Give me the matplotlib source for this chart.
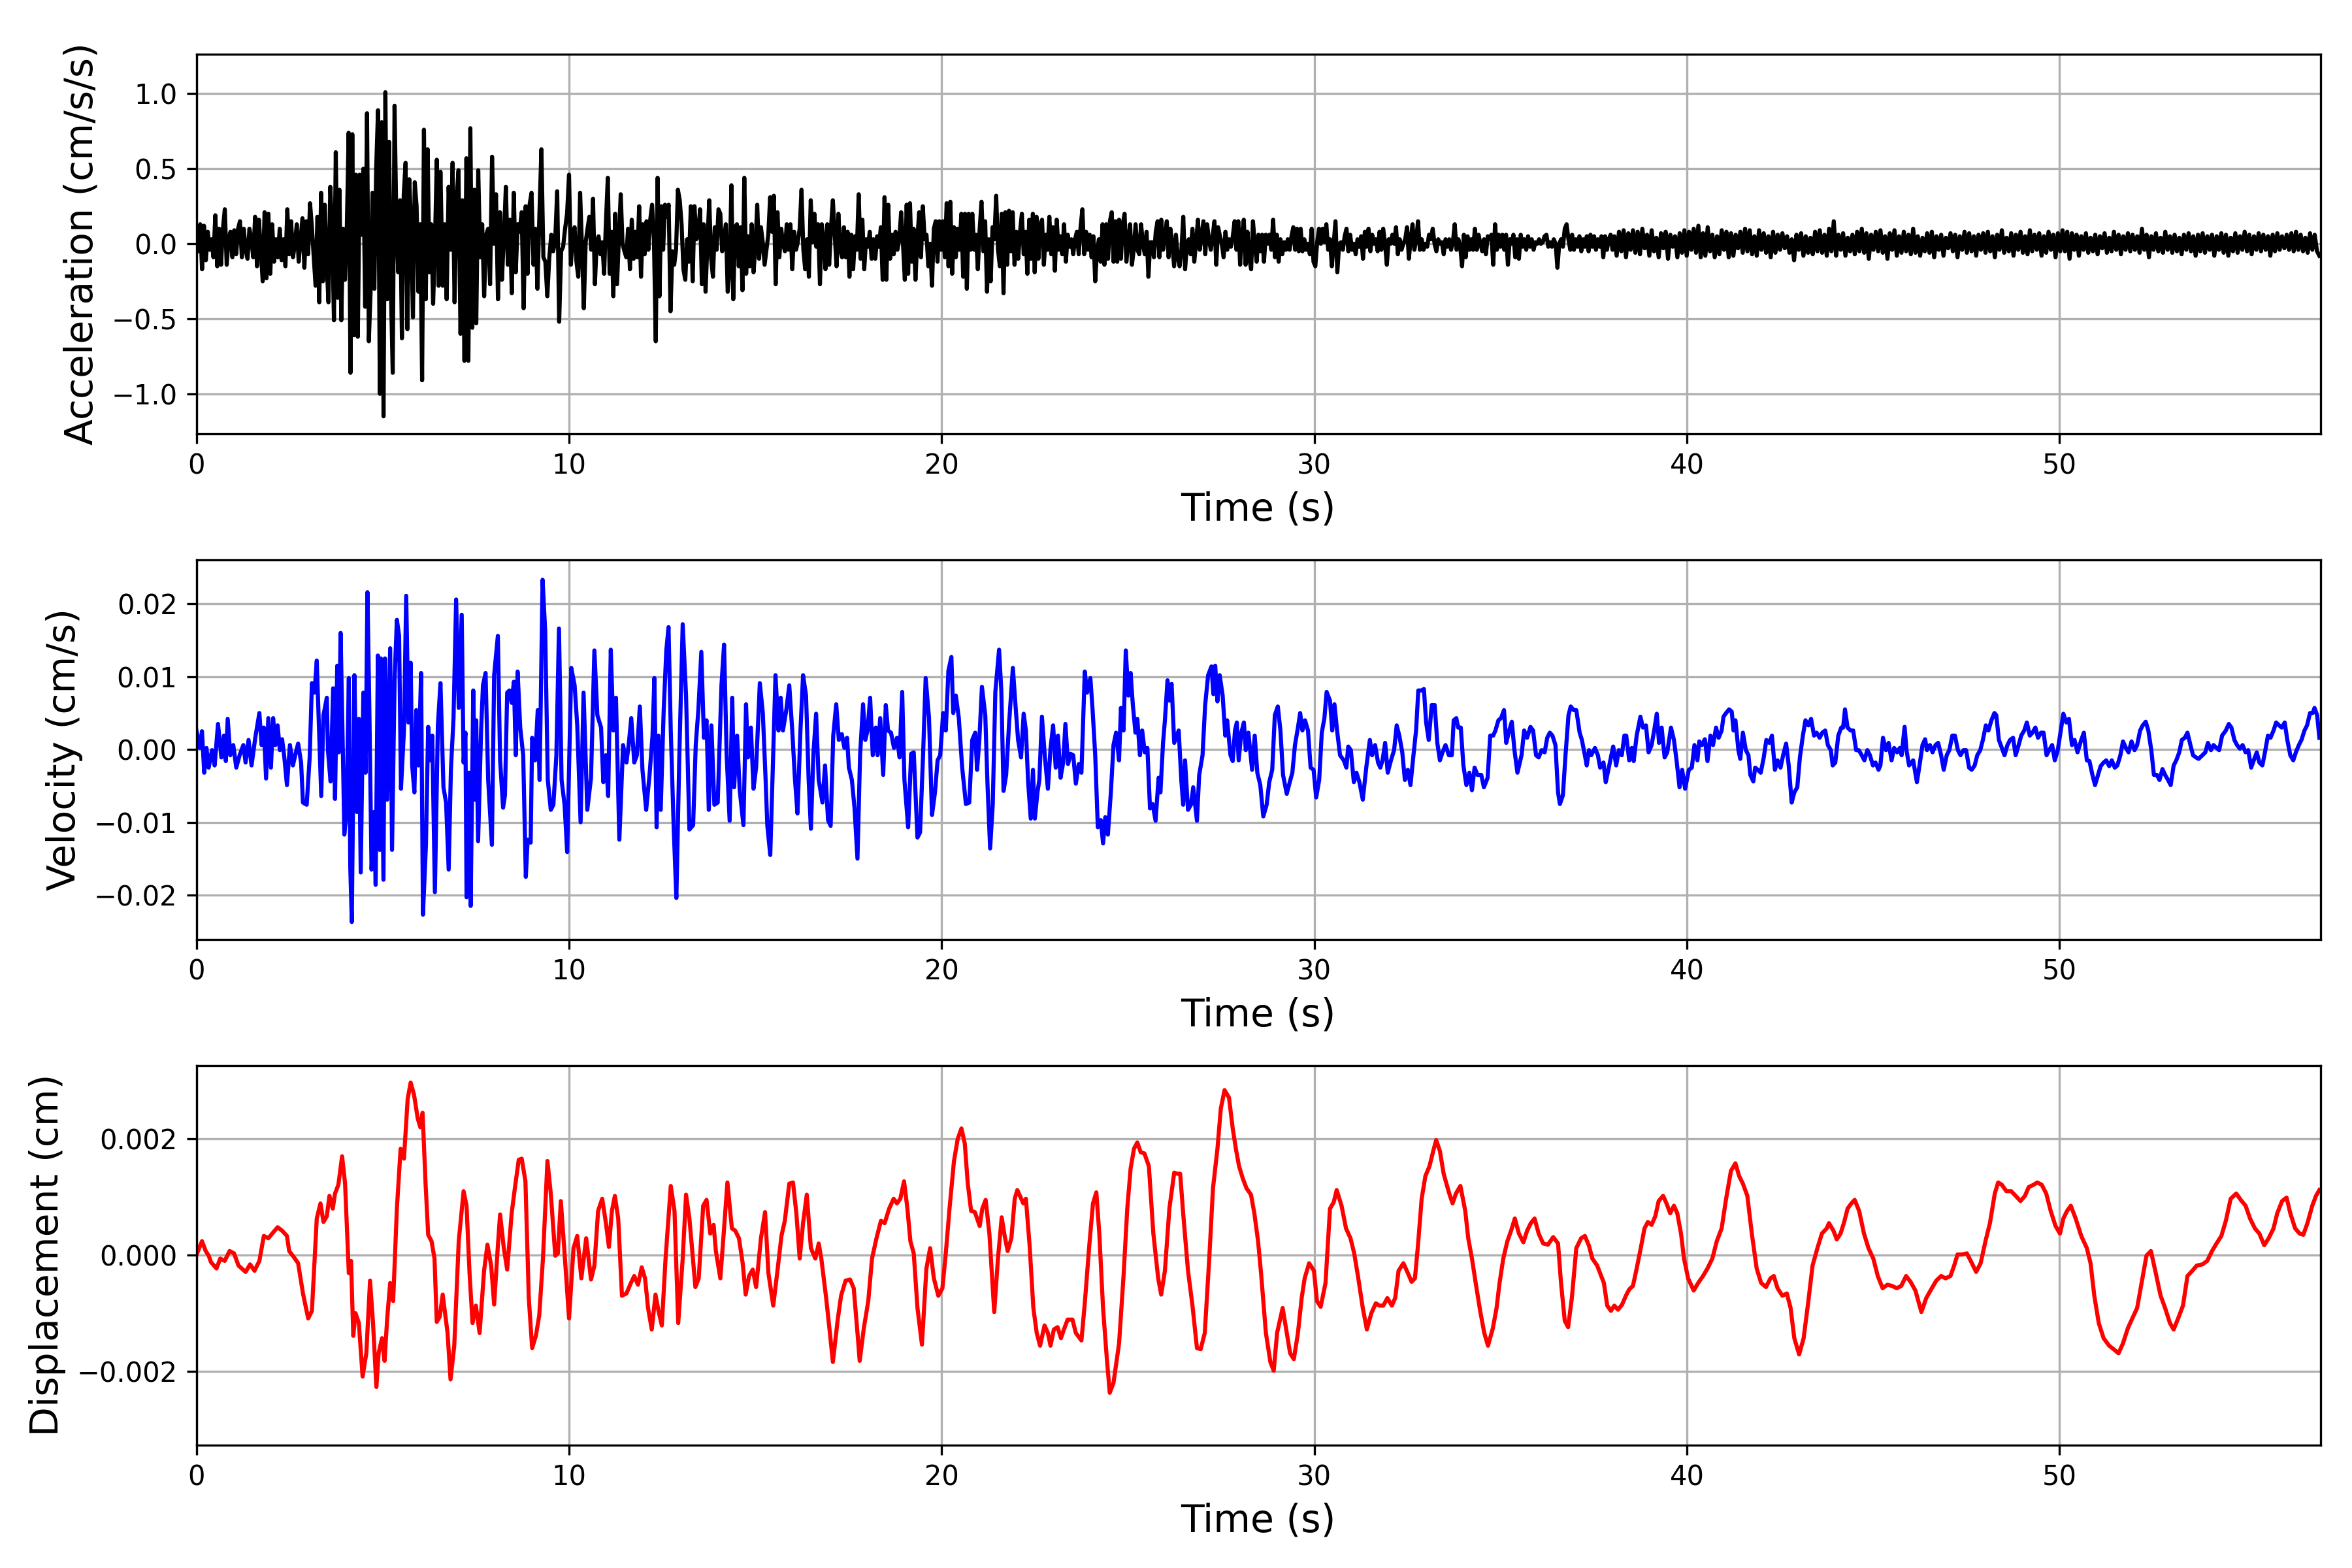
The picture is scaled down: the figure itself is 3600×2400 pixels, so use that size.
import numpy as np
import matplotlib.pyplot as plt

# ---- acceleration in short runs (values in 0.01 cm/s/s)
# each run has a start and end time; samples are evenly spaced inside a run
acc_run1_span = (0.0, 3.05)
acc_run1 = [6, -5, 13, -17, 12, -11, 8, -4, 3, -9, 19, -15, 10, -14, 10, 23, -14, 3, 8, -9,
            9, -7, 10, 15, -9, 10, -4, -10, 10, 3, -9, 18, -15, 16, -4, -25, 21, -23, 20, -20,
            13, -12, 3, -9, 10, -11, 3, -15, 23, -7, 15, -9, 0, 13, -12, 3, 17, -16, 15, -7, 27]
acc_run2_span = (3.10, 6.55)
acc_run2 = [11, -9, -28, 18, -39, 34, -25, 26, -12, -39, 38, 10, -51, 61, -36, 36, -51, 10, -24, 10,
            74, -86, 73, -61, 46, -62, 46, 6, 50, -42, 87, -65, -30, 34, -30, 51, 89, -100, 81, -115,
            101, -37, 68, -30, -86, 92, 13, -19, 29, -63, 33, 54, -57, 43, 13, -49, 41, 25, -32, 13,
            -91, 76, -37, 63, -19, 13, -40, 1, 56, -28, 48]
acc_run3_span = (6.61, 10.0)
acc_run3 = [-28, 13, -37, 38, -4, 54, -39, 29, 49, -60, 29, -78, 57, -78, 77, -56, 36, -53, 49, -9,
            13, -35, 6, 10, -27, 58, 0, 33, -37, 21, -24, 5, 38, -14, 16, -33, 34, -19, 13, 8,
            21, -43, 25, -20, 26, 34, -14, 10, -30, 20, 63, -9, -12, -35, -9, 6, -5, 3, 35, -52,
            -5, -2, 10, 20, 46]
acc_run4_span = (10.05, 19.06)
acc_run4 = [-14, 6, 11, -12, -22, 34, -2, -43, 1, 10, 18, -4, 30, -27, 1, 5, -7, 1, -20, 15,
            44, -20, 8, -35, 20, -27, 3, 33, 0, -5, -9, 10, -17, 16, -10, 8, -9, 25, -22, 13,
            -7, 15, -4, 16, 26, 3, -65, 44, -35, 25, -4, 26, 18, 26, -45, -5, -14, -4, 36, 29,
            13, -17, -24, 3, -12, 25, -25, 25, 3, 6, 23, -27, 13, -32, 1, 29, -10, -22, 11, -4,
            23, 20, -5, 3, 13, -32, -17, 39, -37, 11, 13, -15, 11, -31, 44, -20, 5, -15, 13, -19,
            -2, 26, -10, 11, 1, -14, -4, 6, 31, 8, 32, -27, 21, -9, 10, 0, -5, 13, -4, 13,
            -17, 8, -4, 1, 10, 36, -4, -17, 3, -22, 29, 1, 20, -2, 13, -27, 13, 3, -17, 13,
            -14, 11, 29, 6, -15, 20, -4, -9, 11, -9, 8, -22, 6, -17, 5, -4, 33, -10, 16, -17,
            3, -2, 8, -10, 3, -10, 5, -2, 11, -24, 31, -24, 26, -10, 6, -7, 8, -4, 3, 21,
            0, -24, 26]
acc_run5_span = (19.10, 38.0)
acc_run5 = [-20, 27, -12, 10, -24, 3, 21, -9, 25, 3, 6, -15, 0, -28, 10, 15, -12, 15, -4, 15,
            -9, 27, -15, 28, -20, 11, -9, 10, -4, 20, -22, 20, -30, 20, -4, 20, -4, 6, -17, 10,
            28, -5, 15, -32, 3, -25, 11, 3, 32, -4, -15, 20, -33, 21, -14, 22, -5, 21, -14, 8,
            -10, 8, 20, -7, 8, -20, 16, -10, 20, -19, 18, -10, 13, 16, -14, 6, -4, 18, -7, 11,
            -18, 16, -4, 5, -7, 13, -12, 6, -2, 3, -7, 3, 8, -7, 11, 23, -7, 8, -4, 6,
            -9, 5, -25, -4, 3, -12, 13, -14, 13, -10, 15, 21, -12, 15, -12, 16, -10, 13, 20, -12,
            3, 13, -14, -4, 13, -4, -7, 13, 0, -7, 8, -22, 1, 1, -9, 8, 15, -9, 16, -4,
            5, 15, -9, 10, 0, -15, 6, -9, -15, -4, 18, -17, 0, 3, -7, 10, -12, 1, 16, -4,
            5, 15, -7, 13, 3, -4, 5, 15, -14, 11, 5, 0, -9, 8, -4, 3, -2, 5, 15, -4,
            15, -14, 6, 16, -14, 8, -10, -17, 15, 0, -12, 6, -5, 6, -12, 6, 0, 6, -4, 16,
            -9, 6, -12, 3, -7, 1, -4, 3, -4, 5, 11, -4, 10, -5, 10, -5, 3, -4, 0, -7,
            10, -12, -15, 1, 10, 0, 10, 1, 13, -4, 3, -15, 0, 15, -19, 0, 1, -4, 5, 10,
            -5, 6, -4, 0, -7, 3, -2, 5, -10, 8, -2, 10, -5, 6, 0, 3, -5, 8, -4, 10,
            0, -14, 3, 0, 6, 0, 11, -7, 3, -4, 0, 3, 11, -10, 3, 13, -4, 3, 15, -4,
            3, -4, 0, -2, 6, 3, 10, 0, -5, 3, 0, 1, -7, 3, -2, 3, -4, 1, 13, -4,
            3, -2, -15, 6, -9, 5, -4, 3, -4, 10, -4, 6, 0, -5, 3, -7, 5, 3, 6, -14,
            13, -4, 6, -2, 6, -4, 6, -14, 3, 0, 6, -9, 3, -10, 6, -2, 3, -4, 5, -2,
            3, -4, 1, 0, 3, 0, 1, 5, 6, -2, 1, -2, 3, 0, -16, 0, 3, -2, 10, 13,
            3, -4, 6, -4, 3, -2, 5, -5, 3, -2, 5, -5, 6, -2, 5, -4, 3, -2, 5, -9,
            5, -4, 3, 6, -4]
acc_run6_span = (38.05, 56.97)
acc_run6 = [5, -8, 8, -5, 9, -9, 7, -4, 9, -6, 8, -7, 10, -3, 6, -8, 9, -5, 4, -9,
            7, -3, 8, -10, 6, -2, 5, -9, 7, -6, 9, -8,
            8, -4, 10, -6, 12, -9, 7, -8, 11, -5, 6, -9, 5, -7, 9, -4, 8, -9, 7, -8,
            6, -3, 8, -6, 10, -5, 9, -7, 5, -8, 9, -4,
            7, -6, 5, -9, 8, -6, 6, -4, 7, -3, 5, -6, 3, -11, 6, -4, 7, -8, 5, -6,
            4, -7, 8, -5, 9, -6, 6, -8, 10, -5, 15, -8,
            6, -4, 7, -8, 4, -5, 6, -7, 8, -5, 10, -6, 7, -10, 6, -4, 8, -5, 9, -6,
            5, -10, 7, -4, 9, -8, 5, -6, 8, -5, 6, -7,
            10, -6, 5, -8, 4, -5, 7, -6, 8, -9, 5, -4, 6, -8, 4, -3, 7, -5, 6, -9,
            5, -4, 8, -6, 7, -5, 5, -8, 6, -4, 7, -6,
            8, -5, 5, -9, 6, -4, 9, -6, 4, -5, 7, -8, 6, -4, 8, -6, 5, -7, 9, -5,
            6, -4, 7, -8, 5, -6, 8, -4, 6, -9, 7, -5,
            9, -5, 8, -10, 7, -4, 6, -8, 5, -4, 7, -6, 4, -5, 6, -7, 5, -3, 7, -6,
            4, -5, 8, -4, 6, -7, 5, -4, 7, -5, 6, -4,
            5, -6, 10, -4, 6, -9, 5, -4, 7, -5, 4, -6, 8, -4, 5, -6, 6, -5, 4, -7,
            6, -4, 7, -5, 5, -8, 6, -5, 7, -6, 5, -4,
            6, -8, 5, -4, 7, -6, 6, -8, 4, -5, 7, -6, 5, -4, 8, -5, 6, -7, 5, -4,
            7, -5, 6, -4, 5, -8, 6, -5, 7, -4, 5, -3,
            6, -4, 7, -5, 8, -4, 6, -5, 4, -6, 7, -4, 6, -5, -8]

# ---- velocity, (time s, value in 0.001 cm/s)
vel_part1 = [
    (0.00, 2.6), (0.09, 0.2), (0.15, 2.5), (0.21, -3.2), (0.27, 0.2), (0.33, -2.5), (0.42, -0.1),
    (0.49, -2.2), (0.58, 3.5), (0.67, -1.1), (0.74, 1.9), (0.79, -1.6), (0.84, 4.2), (0.91, -0.8),
    (0.99, 0.6), (1.07, -2.5), (1.16, -0.8), (1.26, 0.6), (1.32, -1.8), (1.40, 1.3), (1.48, -2.2),
    (1.58, 1.6), (1.69, 5.0), (1.75, 0.6), (1.81, 3.0), (1.87, -4.0), (1.93, 4.3), (2.00, -2.5),
    (2.06, 4.3), (2.12, 0.6), (2.18, 3.3), (2.24, -0.1), (2.30, 1.4), (2.36, -1.1), (2.43, -4.9),
    (2.51, 0.6), (2.59, -2.2), (2.67, -0.4), (2.73, 0.8), (2.81, -1.8), (2.86, -7.3), (2.96, -7.6),
    (3.04, -1.1), (3.10, 9.1), (3.17, 7.8), (3.23, 12.2), (3.29, 3.0), (3.35, -6.4), (3.41, 4.7),
    (3.50, 7.1), (3.53, -0.1), (3.60, -4.4), (3.67, 8.4), (3.72, -6.8), (3.78, 11.5), (3.82, -0.4),
    (3.87, 16.0), (3.93, -0.1), (3.97, -11.7), (4.03, -8.6), (4.09, 9.8), (4.13, -16.2),
    (4.17, -23.7), (4.24, 10.2), (4.31, -8.6), (4.36, 4.2), (4.41, -16.9), (4.48, 7.8),
    (4.54, -3.2), (4.59, 21.6), (4.64, 6.1), (4.70, -16.5), (4.77, -8.6), (4.81, -18.6),
    (4.87, 12.9), (4.92, -13.8), (4.95, 12.5), (5.02, -17.9), (5.06, 12.5), (5.12, -6.9),
    (5.20, 13.9), (5.25, -13.8), (5.32, 9.8), (5.38, 17.8), (5.44, 15.6), (5.49, -5.4),
    (5.57, 2.6), (5.63, 21.1), (5.69, 3.7), (5.75, 11.9), (5.79, -2.2), (5.85, -5.9), (5.90, 5.4),
    (5.96, -2.2), (6.03, 10.5), (6.08, -22.7), (6.16, -13.1), (6.22, 3.1), (6.28, -1.5),
    (6.33, 1.9), (6.40, -19.6), (6.48, 3.3), (6.55, 9.1), (6.63, -5.2), (6.70, -7.3),
    (6.77, -16.5), (6.83, -2.8), (6.90, 4.3), (6.97, 20.6), (7.04, 5.7), (7.12, 18.5),
    (7.17, -1.8), (7.22, 2.3), (7.25, -20.3), (7.32, -3.2), (7.36, -21.5), (7.43, 8.1),
    (7.48, -6.9), (7.51, 4.0), (7.56, -12.6), (7.64, 2.6), (7.69, 8.8), (7.76, 10.5),
    (7.83, -4.2), (7.93, -13.1), (7.99, 10.2), (8.09, 15.6), (8.15, -1.5), (8.23, -8.0),
    (8.28, -6.3), (8.34, 7.8), (8.40, 8.1), (8.46, 6.4), (8.52, 9.3), (8.57, -0.8), (8.62, 10.7),
    (8.69, 3.0), (8.77, -0.8), (8.84, -17.5), (8.89, -12.4), (8.97, -12.8), (9.01, 1.6),
    (9.09, -1.5), (9.16, 5.4), (9.21, -4.2), (9.29, 23.3), (9.36, 16.3), (9.43, -4.2),
    (9.51, -8.3), (9.58, -7.6), (9.66, -0.8), (9.73, 16.6), (9.80, -4.2), (9.88, -7.6),
    (9.95, -14.1), (10.06, 11.2), (10.15, 8.8), (10.22, 3.3), (10.31, -10.0), (10.39, 7.8),
    (10.49, -8.3), (10.59, -3.9), (10.68, 13.6), (10.76, 4.7), (10.86, 3.0), (10.92, -4.5),
    (10.99, -0.8), (11.05, -6.4), (11.12, 13.7), (11.19, 2.6), (11.26, 7.1), (11.35, -12.4),
    (11.45, 0.6), (11.54, -1.8), (11.60, 0.6), (11.67, 4.3), (11.75, -1.8), (11.82, -0.8),
    (11.90, 5.9), (11.97, -2.8), (12.07, -8.3), (12.16, -3.5), (12.24, 1.9), (12.29, 9.8),
    (12.35, -10.7), (12.40, 1.9), (12.46, -8.3), (12.54, 5.4), (12.61, 13.6), (12.67, 16.8),
    (12.73, 2.6), (12.81, -11.0), (12.88, -20.4), (12.96, -0.8), (13.05, 17.2), (13.14, 7.4),
    (13.23, -11.0), (13.33, -10.4), (13.40, 0.6), (13.47, 5.4), (13.55, 13.4), (13.62, 1.6),
    (13.69, 4.0), (13.75, -8.3), (13.82, 3.3), (13.90, -7.6), (13.99, -7.3), (14.09, 8.8),
    (14.16, 14.4), (14.23, -0.8), (14.31, -9.8), (14.38, 7.1), (14.43, -5.2), (14.51, 1.9),
    (14.58, -5.6), (14.68, -10.4), (14.75, 6.2), (14.80, -1.1), (14.88, 3.0), (14.95, -5.4),
    (15.02, -2.5), (15.12, 9.1), (15.20, 5.0), (15.27, -3.5), (15.32, -10.4), (15.40, -14.5),
    (15.47, -2.2), (15.54, 10.2), (15.62, 2.6), (15.68, 7.1), (15.74, 2.6), (15.83, 5.4),
    (15.91, 8.8), (15.99, 2.6), (16.06, -3.9), (16.13, -8.8), (16.21, 2.6), (16.28, 10.2),
    (16.36, 7.4), (16.43, -4.2), (16.49, -10.9), (16.56, -0.4), (16.63, 4.9), (16.70, -4.2),
    (16.80, -7.3), (16.87, -2.2), (16.95, -9.7), (17.02, -10.5), (17.09, 1.9), (17.17, 6.2),
    (17.24, 1.3), (17.32, 2.1), (17.39, 0.2), (17.46, 1.6), (17.51, -2.5), (17.59, -4.2),
    (17.66, -8.0), (17.74, -15.0), (17.81, -0.8), (17.89, 6.2), (17.95, 1.3), (18.01, 2.6),
    (18.08, 7.1), (18.15, -0.8), (18.23, 3.0), (18.28, -0.8), (18.35, 4.3), (18.43, -3.5),
    (18.50, 6.1), (18.56, 2.6), (18.64, 2.3), (18.72, 0.2), (18.80, 1.6), (18.87, -1.1),
    (18.94, 7.9), (19.00, -4.2)]
vel_part2 = [
    (19.10, -10.7), (19.18, -0.6), (19.25, -0.4), (19.35, -12.1), (19.42, -11.4), (19.50, -0.8),
    (19.57, 9.8), (19.66, 4.3), (19.74, -9.0), (19.82, -5.9), (19.89, -1.5), (19.96, -0.8),
    (20.04, 5.0), (20.11, 2.6), (20.18, 10.8), (20.26, 12.7), (20.31, 5.0), (20.38, 7.4),
    (20.46, 4.3), (20.55, -2.5), (20.65, -7.5), (20.74, -7.3), (20.82, 1.3), (20.90, 2.3),
    (20.95, -2.8), (21.01, 1.3), (21.08, 8.6), (21.17, 4.7), (21.23, -4.9), (21.30, -13.6),
    (21.37, -7.6), (21.44, 7.9), (21.54, 13.7), (21.60, 8.1), (21.66, -5.7), (21.73, -3.5),
    (21.81, 3.7), (21.91, 11.2), (21.98, 6.1), (22.05, 1.3), (22.13, -1.1), (22.20, 4.9),
    (22.26, 2.6), (22.32, -4.5), (22.39, -9.5), (22.45, -2.8), (22.50, -9.5), (22.57, -5.9),
    (22.62, -4.2), (22.69, 4.5), (22.77, -1.1), (22.85, -5.4), (22.92, 0.1), (22.99, 3.3),
    (23.06, -2.5), (23.12, 1.9), (23.19, -3.9), (23.26, -1.8), (23.32, 3.5), (23.39, -2.0),
    (23.46, -0.6), (23.53, -0.8), (23.60, -4.7), (23.68, -2.0), (23.75, -3.2), (23.84, 10.7),
    (23.90, 7.8), (23.99, 9.8), (24.05, 5.4), (24.12, -0.8), (24.19, -10.7), (24.27, -9.7),
    (24.33, -12.9), (24.39, -9.3), (24.46, -11.7), (24.54, -5.9), (24.61, 0.6), (24.68, 2.3),
    (24.76, -1.5), (24.81, 5.7), (24.88, 2.6), (24.94, 13.6), (25.01, 7.4), (25.07, 10.5),
    (25.13, 6.1), (25.20, 2.3), (25.25, 4.2), (25.32, -0.8), (25.38, 2.6), (25.45, -0.4),
    (25.52, 0.2), (25.59, -8.1), (25.66, -7.5), (25.74, -9.8), (25.82, -3.9), (25.87, -5.9),
    (25.94, 0.9), (25.99, 4.0), (26.06, 9.5), (26.11, 6.7), (26.17, 9.0), (26.24, 0.9),
    (26.31, 1.9), (26.36, 2.6), (26.43, -4.2), (26.48, -7.6), (26.53, -1.5), (26.61, -8.3),
    (26.69, -7.6), (26.75, -5.2), (26.85, -9.8), (26.91, -3.5), (27.00, -0.8), (27.07, 6.1),
    (27.15, 10.2), (27.24, 11.4), (27.29, 7.6), (27.34, 11.5), (27.40, 6.6), (27.46, 10.2),
    (27.54, 7.4), (27.61, 1.9), (27.66, 4.0), (27.75, -0.8), (27.81, -1.6), (27.87, 2.6),
    (27.92, 3.7), (27.97, -1.5), (28.04, 2.3), (28.11, 3.7), (28.16, -0.1), (28.23, 2.3),
    (28.33, -2.8), (28.40, 1.9), (28.47, -3.2), (28.55, -4.9), (28.63, -9.2), (28.72, -7.6),
    (28.79, -4.5), (28.87, -2.8), (28.94, 4.7), (29.02, 5.9), (29.09, 2.6), (29.16, -3.5),
    (29.26, -6.1), (29.34, -4.5), (29.41, -3.2), (29.48, 0.6), (29.56, 3.0), (29.62, 5.0),
    (29.68, 2.6), (29.75, 4.0), (29.83, 2.6), (29.90, -2.5), (29.98, -2.8), (30.05, -6.6),
    (30.13, -4.2), (30.20, 2.3), (30.27, 4.3), (30.33, 7.9), (30.42, 6.7), (30.48, 2.6),
    (30.54, 6.2), (30.61, 2.6), (30.69, -0.8), (30.79, -1.5), (30.86, -2.5), (30.91, 0.4),
    (30.98, -0.1), (31.06, -4.5), (31.13, -3.2), (31.21, -4.5), (31.30, -6.9), (31.40, -2.2),
    (31.49, 1.3), (31.55, -0.8), (31.63, 0.6), (31.71, -1.8), (31.77, -2.5), (31.83, -1.5),
    (31.90, 0.9), (31.97, -3.2), (32.04, -1.8), (32.14, -0.1), (32.21, 3.3), (32.28, 1.9),
    (32.36, -0.4), (32.43, -4.2), (32.51, -2.8), (32.58, -4.9), (32.66, -0.8), (32.73, 2.6),
    (32.79, 8.1), (32.88, 8.1), (32.94, 8.3), (33.00, 3.7), (33.07, 1.3), (33.15, 6.1),
    (33.23, 6.1), (33.30, 0.9), (33.37, -1.5), (33.44, -0.4), (33.52, 0.6), (33.61, -0.8),
    (33.69, -0.8), (33.74, 4.0), (33.81, 4.3), (33.86, 3.0), (33.93, 3.0), (34.00, -2.2),
    (34.08, -4.9), (34.16, -3.2), (34.23, -5.6), (34.30, -2.5), (34.38, -3.5), (34.48, -3.5),
    (34.55, -5.2), (34.65, -3.9), (34.72, 1.9), (34.80, 1.9), (34.86, 2.6), (34.94, 4.0),
    (35.01, 4.3), (35.09, 5.4), (35.15, 0.9), (35.23, 2.6), (35.30, 3.8), (35.37, -0.1),
    (35.45, -3.2), (35.56, -0.8), (35.63, 2.6), (35.71, 1.6), (35.80, 3.1), (35.87, 2.6),
    (35.95, -0.8), (36.02, -1.1), (36.10, -0.1), (36.18, -0.4), (36.25, 1.6), (36.32, 2.3),
    (36.39, 1.9), (36.47, 0.6), (36.54, -5.9), (36.59, -7.5), (36.67, -6.3), (36.74, -0.8),
    (36.82, 4.7), (36.88, 5.9), (36.96, 5.4), (37.03, 5.4), (37.12, 2.3), (37.18, 1.3),
    (37.26, -0.8), (37.31, -2.2), (37.37, -0.1), (37.43, -0.8), (37.53, 0.2), (37.61, -0.8),
    (37.67, -2.5), (37.76, -1.8)]
vel_part3 = [
    (37.82, -4.5), (37.89, -2.8), (37.97, -0.8), (38.02, 0.4), (38.10, -2.2), (38.17, -0.1),
    (38.25, -0.8), (38.32, 1.9), (38.37, 1.9), (38.45, -1.5), (38.52, 0.2), (38.57, -1.6),
    (38.65, 1.9), (38.75, 4.5), (38.82, 3.0), (38.90, 3.3), (38.97, -0.4), (39.05, 0.6),
    (39.12, 2.6), (39.19, 4.9), (39.25, 0.9), (39.32, 3.0), (39.40, -1.1), (39.47, -0.4),
    (39.57, 3.0), (39.65, 1.3), (39.72, -1.5), (39.80, -5.2), (39.87, -2.8), (39.95, -5.4),
    (40.05, -2.8), (40.13, -2.5), (40.20, 0.6), (40.28, -1.5), (40.33, 1.1), (40.40, 0.6),
    (40.48, 1.4), (40.55, -1.6), (40.63, 1.9), (40.70, 0.6), (40.78, 3.0), (40.85, 1.6),
    (40.93, 2.6), (40.98, 4.5), (41.05, 5.0), (41.13, 5.5), (41.20, 5.2), (41.25, 2.6),
    (41.30, 4.0), (41.38, -0.1), (41.43, -1.3), (41.50, 2.3), (41.58, -0.1), (41.65, -0.8),
    (41.70, -3.5), (41.78, -4.4), (41.83, -2.5), (41.90, -2.8), (41.98, -3.2), (42.06, -1.1),
    (42.13, 1.3), (42.21, 0.9), (42.28, 1.9), (42.36, -2.8), (42.43, -1.5), (42.51, -2.5),
    (42.58, -0.8), (42.66, 0.8), (42.73, -2.2), (42.81, -7.3), (42.88, -5.9), (42.96, -5.2),
    (43.03, -1.1), (43.11, 1.9), (43.18, 4.0), (43.26, 3.3), (43.33, 4.2), (43.41, 1.9),
    (43.48, 2.3), (43.56, 1.6), (43.63, 2.3), (43.71, 2.6), (43.78, 0.6), (43.86, -0.1),
    (43.91, -2.2), (43.98, -1.8), (44.06, 1.9), (44.14, 3.0), (44.19, 3.0), (44.24, 5.5),
    (44.31, 3.0), (44.39, 2.6), (44.46, 2.6), (44.54, -0.1), (44.61, -0.1), (44.69, -0.8),
    (44.76, -1.5), (44.84, -0.1), (44.91, -0.8), (44.99, -2.2), (45.06, -1.8), (45.14, -2.8),
    (45.19, -2.2), (45.26, 1.6), (45.34, -0.1), (45.41, 0.9), (45.49, -1.5), (45.56, 0.2),
    (45.64, -0.4), (45.71, 0.2), (45.76, -0.8), (45.84, 3.1), (45.89, -0.1), (45.96, -2.2),
    (46.07, -1.5), (46.17, -4.5), (46.24, -2.2), (46.32, 0.6), (46.39, 1.4), (46.44, -0.1),
    (46.52, 0.6), (46.59, -0.4), (46.67, 0.6), (46.74, 0.9), (46.82, -0.8), (46.89, -2.8),
    (46.97, -0.8), (47.04, -0.1), (47.12, 1.9), (47.19, 1.9), (47.27, -0.1), (47.34, -0.8),
    (47.42, -0.1), (47.49, -0.1), (47.57, -2.5), (47.64, -2.8), (47.72, -2.2), (47.79, -0.8),
    (47.87, -0.1), (47.94, 1.3), (48.02, 3.3), (48.09, 2.6), (48.17, 4.0), (48.25, 5.0),
    (48.30, 4.7), (48.37, 1.3), (48.45, 0.2), (48.52, -0.8), (48.60, 0.6), (48.67, 1.3),
    (48.75, 1.6), (48.82, -0.8), (48.90, 0.6), (48.97, 1.9), (49.05, 2.6), (49.12, 3.7),
    (49.20, 1.9), (49.27, 2.3), (49.35, 3.0), (49.42, 1.6), (49.50, 2.3), (49.57, 2.3),
    (49.65, -0.8), (49.72, -0.1), (49.80, 0.6), (49.87, -1.5), (49.95, -0.1), (50.03, 2.6),
    (50.10, 4.9), (50.18, 3.7), (50.25, 4.2), (50.33, 0.6), (50.40, 1.3), (50.48, -0.4),
    (50.58, 1.3), (50.65, 2.3), (50.73, -1.5), (50.80, -1.6), (50.88, -3.5), (50.95, -4.9),
    (51.03, -3.5), (51.10, -2.3), (51.18, -1.8), (51.25, -1.5), (51.33, -2.3), (51.40, -1.5),
    (51.48, -2.5), (51.55, -2.2), (51.63, -0.8), (51.70, 1.1), (51.78, 0.2), (51.85, -0.4),
    (51.93, 1.1), (52.01, -0.1), (52.08, 0.6), (52.16, 2.6), (52.23, 3.3), (52.31, 3.8),
    (52.38, 2.6), (52.46, -0.1), (52.53, -3.5), (52.61, -3.5), (52.68, -4.2), (52.76, -2.7),
    (52.83, -3.5), (52.91, -4.2), (52.98, -4.9), (53.06, -2.2), (53.13, -1.5), (53.21, -0.4),
    (53.28, 1.3), (53.36, 1.6), (53.43, 2.3), (53.51, 0.6), (53.58, -0.8), (53.66, -1.1),
    (53.73, -1.3), (53.83, -0.8), (53.91, -0.4), (53.98, 0.9), (54.06, -0.1), (54.13, 0.6),
    (54.21, 0.2), (54.28, -0.1), (54.36, 1.9), (54.46, 2.6), (54.54, 3.5), (54.61, 3.0),
    (54.69, 1.3), (54.76, 0.6), (54.84, 0.1), (54.91, 0.6), (54.99, -0.4), (55.06, -0.1),
    (55.14, -2.5), (55.21, -1.5), (55.29, -0.4), (55.36, -1.8), (55.44, -2.2), (55.51, -0.4),
    (55.59, 1.9), (55.66, 1.6), (55.74, 2.6), (55.81, 3.7), (55.89, 3.3), (55.96, 3.0),
    (56.04, 3.7), (56.11, 1.3), (56.19, -0.8), (56.27, -1.5), (56.34, -0.4), (56.42, 0.6),
    (56.49, 1.3), (56.57, 2.6), (56.64, 3.3), (56.72, 5.0), (56.79, 5.0), (56.84, 5.7),
    (56.91, 4.7), (56.97, 1.6)]

# ---- displacement, (time s, value in 0.001 cm)
disp_part1 = [
    (0.00, 0.0), (0.15, 0.24), (0.25, 0.07), (0.33, -0.01), (0.39, -0.12), (0.54, -0.23),
    (0.64, -0.06), (0.76, -0.10), (0.89, 0.07), (1.01, 0.03), (1.13, -0.18), (1.32, -0.29),
    (1.44, -0.16), (1.56, -0.27), (1.69, -0.10), (1.81, 0.33), (1.93, 0.29), (2.06, 0.39),
    (2.18, 0.48), (2.30, 0.42), (2.43, 0.33), (2.49, 0.07), (2.61, -0.03), (2.73, -0.14),
    (2.86, -0.66), (3.00, -1.09), (3.10, -0.96), (3.23, 0.63), (3.33, 0.89), (3.41, 0.57),
    (3.50, 0.67), (3.57, 1.02), (3.66, 0.80), (3.72, 1.06), (3.81, 1.21), (3.91, 1.70),
    (3.99, 1.23), (4.09, -0.31), (4.15, -0.10), (4.21, -1.39), (4.27, -1.00), (4.36, -1.17),
    (4.46, -2.09), (4.56, -1.69), (4.66, -0.44), (4.74, -1.17), (4.83, -2.27), (4.89, -1.69),
    (4.98, -1.43), (5.05, -1.82), (5.12, -1.09), (5.20, -0.48), (5.28, -0.79), (5.38, 0.80),
    (5.48, 1.83), (5.57, 1.66), (5.67, 2.69), (5.75, 2.97), (5.84, 2.76), (5.94, 2.35),
    (6.01, 2.20), (6.07, 2.45), (6.15, 1.23), (6.22, 0.35), (6.31, 0.24), (6.39, -0.06),
    (6.45, -1.15), (6.53, -1.06), (6.61, -0.68), (6.74, -1.34), (6.82, -2.14), (6.92, -1.56),
    (7.04, 0.24), (7.17, 1.10), (7.25, 0.85), (7.33, -0.31), (7.41, -1.17), (7.50, -0.87),
    (7.60, -1.34), (7.72, -0.27), (7.81, 0.18), (7.91, -0.18), (7.99, -0.85), (8.09, 0.16),
    (8.15, 0.70), (8.25, 0.12), (8.34, -0.25), (8.46, 0.72), (8.55, 1.17), (8.65, 1.64),
    (8.73, 1.66), (8.83, 1.27), (8.92, -0.74), (9.01, -1.60), (9.11, -1.39), (9.20, -1.04),
    (9.30, -0.06), (9.42, 1.62), (9.51, 1.06), (9.63, -0.01), (9.70, 0.03), (9.78, 0.93),
    (9.88, 0.03), (10.00, -1.09), (10.12, 0.12), (10.22, 0.33), (10.33, -0.40), (10.46, 0.29),
    (10.59, -0.42), (10.68, -0.18), (10.78, 0.76), (10.89, 0.97), (10.99, 0.55), (11.07, 0.14),
    (11.15, 0.76), (11.23, 1.02), (11.32, 0.63), (11.42, -0.70), (11.54, -0.66), (11.66, -0.48),
    (11.75, -0.36), (11.85, -0.51), (11.95, -0.21), (12.04, -0.40), (12.12, -0.91),
    (12.22, -1.28), (12.32, -0.68), (12.40, -0.96), (12.49, -1.21), (12.59, -0.06),
    (12.73, 1.19), (12.83, 0.76), (12.93, -1.17), (13.05, -0.06), (13.14, 1.04), (13.23, 0.63),
    (13.30, 0.12), (13.39, -0.55), (13.48, -0.40), (13.60, 0.85), (13.69, 0.95), (13.79, 0.37),
    (13.88, 0.52), (13.94, 0.07), (14.06, -0.40), (14.15, 0.37), (14.25, 1.25), (14.37, 0.46),
    (14.46, 0.42), (14.56, 0.29), (14.66, -0.14), (14.74, -0.68), (14.83, -0.36),
    (14.93, -0.25), (15.02, -0.55), (15.15, 0.29), (15.26, 0.74), (15.35, -0.31),
    (15.48, -0.87), (15.60, -0.23), (15.70, 0.33), (15.79, 0.59), (15.91, 1.23), (16.01, 1.25),
    (16.10, 0.72), (16.19, -0.06), (16.28, 0.55), (16.38, 1.04), (16.49, 0.12), (16.61, -0.06),
    (16.70, 0.20), (16.77, -0.06), (16.90, -0.74), (17.00, -1.34), (17.08, -1.84),
    (17.21, -1.11), (17.30, -0.70), (17.42, -0.44), (17.54, -0.42), (17.64, -0.57),
    (17.74, -1.34), (17.80, -1.82), (17.91, -1.26), (18.03, -0.79), (18.13, -0.06),
    (18.25, 0.29), (18.37, 0.59), (18.47, 0.55), (18.59, 0.80), (18.71, 0.97), (18.80, 0.89),
    (18.89, 0.97), (18.99, 1.27)]
disp_part2 = [
    (19.08, 0.80), (19.16, 0.24), (19.25, 0.03), (19.35, -0.91), (19.47, -1.54), (19.59, -0.23),
    (19.69, 0.12), (19.79, -0.40), (19.91, -0.70), (20.02, -0.57), (20.11, 0.03), (20.21, 0.80),
    (20.33, 1.62), (20.43, 2.00), (20.53, 2.18), (20.62, 1.92), (20.70, 1.23), (20.79, 0.76),
    (20.89, 0.74), (21.02, 0.50), (21.09, 0.80), (21.18, 0.95), (21.28, 0.37), (21.41, -0.98),
    (21.51, -0.06), (21.61, 0.65), (21.69, 0.33), (21.77, 0.07), (21.87, 0.29), (21.96, 0.97),
    (22.03, 1.12), (22.12, 0.99), (22.19, 0.89), (22.26, 0.97), (22.36, 0.16), (22.46, -0.91),
    (22.55, -1.34), (22.64, -1.56), (22.76, -1.21), (22.85, -1.34), (22.92, -1.56),
    (23.01, -1.28), (23.11, -1.24), (23.20, -1.43), (23.28, -1.28), (23.38, -1.11),
    (23.51, -1.11), (23.60, -1.34), (23.75, -1.47), (23.84, -0.83), (23.96, 0.16), (24.06, 0.89),
    (24.15, 1.08), (24.23, 0.37), (24.33, -0.91), (24.43, -1.77), (24.51, -2.37), (24.61, -2.20),
    (24.76, -1.52), (24.88, -0.36), (24.98, 0.80), (25.07, 1.49), (25.16, 1.83), (25.25, 1.94),
    (25.34, 1.77), (25.44, 1.75), (25.56, 1.53), (25.68, 0.37), (25.81, -0.40), (25.89, -0.68),
    (25.99, -0.27), (26.11, 0.80), (26.24, 1.42), (26.32, 1.40), (26.40, 1.40), (26.48, 0.72),
    (26.61, -0.27), (26.73, -0.87), (26.85, -1.60), (26.95, -1.62), (27.06, -1.34),
    (27.18, -0.06), (27.28, 1.15), (27.40, 1.83), (27.49, 2.52), (27.59, 2.84), (27.71, 2.71),
    (27.81, 2.18), (27.90, 1.81), (27.98, 1.53), (28.08, 1.32), (28.18, 1.15), (28.30, 1.04),
    (28.39, 0.72), (28.49, 0.24), (28.57, -0.31), (28.70, -1.34), (28.82, -1.84), (28.91, -1.99),
    (29.00, -1.34), (29.15, -0.91), (29.25, -1.30), (29.35, -1.69), (29.45, -1.79),
    (29.56, -1.34), (29.66, -0.74), (29.74, -0.40), (29.86, -0.14), (29.99, -0.27),
    (30.07, -0.79), (30.17, -0.89), (30.30, -0.48), (30.42, 0.80), (30.52, 0.91), (30.60, 1.12),
    (30.73, 0.85), (30.85, 0.46), (30.97, 0.29), (31.07, 0.03), (31.18, -0.40), (31.30, -0.91),
    (31.41, -1.28), (31.53, -1.00), (31.65, -0.83), (31.75, -0.87), (31.85, -0.87),
    (31.96, -0.74), (32.08, -0.87), (32.17, -0.74), (32.26, -0.27), (32.39, -0.14),
    (32.51, -0.31), (32.61, -0.46), (32.70, -0.40), (32.78, 0.16), (32.88, 0.97), (32.98, 1.36),
    (33.09, 1.53), (33.19, 1.79), (33.27, 1.98), (33.37, 1.79), (33.47, 1.40), (33.58, 1.15),
    (33.64, 1.02), (33.71, 0.89), (33.80, 1.06), (33.92, 1.19), (34.05, 0.76), (34.13, 0.29),
    (34.23, -0.06), (34.33, -0.48), (34.45, -0.96), (34.56, -1.34), (34.66, -1.56),
    (34.79, -1.26), (34.89, -0.91), (34.97, -0.48), (35.07, -0.06), (35.18, 0.24), (35.28, 0.42),
    (35.38, 0.63), (35.49, 0.37), (35.61, 0.22), (35.71, 0.42), (35.81, 0.55), (35.91, 0.63),
    (36.02, 0.37), (36.14, 0.20), (36.27, 0.18), (36.41, 0.31), (36.54, 0.20), (36.62, -0.48),
    (36.72, -1.13), (36.81, -1.24), (36.91, -0.74), (37.03, 0.12), (37.16, 0.29), (37.26, 0.33),
    (37.37, 0.16), (37.46, -0.06), (37.59, -0.18)]
disp_part3 = [
    (37.77, -0.48), (37.86, -0.87), (37.96, -0.96), (38.05, -0.87), (38.15, -0.94),
    (38.26, -0.85), (38.36, -0.70), (38.45, -0.59), (38.55, -0.53), (38.65, -0.23), (38.76, 0.12),
    (38.86, 0.46), (38.95, 0.57), (39.05, 0.52), (39.15, 0.67), (39.24, 0.93), (39.36, 1.02),
    (39.45, 0.89), (39.55, 0.72), (39.65, 0.85), (39.74, 0.72), (39.84, 0.37), (39.92, -0.06),
    (40.03, -0.40), (40.18, -0.61), (40.30, -0.48), (40.43, -0.36), (40.55, -0.23),
    (40.68, -0.06), (40.80, 0.24), (40.93, 0.46), (41.05, 0.97), (41.18, 1.45), (41.30, 1.58),
    (41.40, 1.36), (41.50, 1.23), (41.62, 1.02), (41.74, 0.37), (41.87, -0.23), (41.99, -0.48),
    (42.12, -0.55), (42.24, -0.40), (42.33, -0.36), (42.43, -0.57), (42.56, -0.70),
    (42.68, -0.66), (42.78, -0.91), (42.88, -1.43), (43.01, -1.71), (43.13, -1.43),
    (43.25, -0.83), (43.37, -0.18), (43.50, 0.12), (43.62, 0.37), (43.75, 0.46), (43.81, 0.55),
    (43.93, 0.42), (44.02, 0.27), (44.12, 0.37), (44.21, 0.55), (44.31, 0.80), (44.41, 0.89),
    (44.50, 0.95), (44.62, 0.76), (44.75, 0.37), (44.87, 0.12), (45.00, -0.06), (45.12, -0.36),
    (45.25, -0.57), (45.38, -0.51), (45.50, -0.53), (45.63, -0.57), (45.75, -0.53),
    (45.88, -0.36), (46.00, -0.46), (46.13, -0.61), (46.29, -0.98), (46.42, -0.74),
    (46.57, -0.57), (46.69, -0.44), (46.82, -0.36), (46.94, -0.40), (47.07, -0.36),
    (47.17, -0.18), (47.26, 0.01), (47.38, 0.01), (47.51, 0.03), (47.63, -0.12), (47.76, -0.29),
    (47.88, -0.14), (48.01, 0.24), (48.13, 0.55), (48.26, 1.06), (48.35, 1.25), (48.45, 1.21),
    (48.57, 1.10), (48.70, 1.10), (48.82, 1.02), (48.95, 0.93), (49.07, 1.02), (49.17, 1.17),
    (49.30, 1.21), (49.40, 1.25), (49.52, 1.21), (49.64, 1.06), (49.76, 0.76), (49.89, 0.50),
    (50.01, 0.37), (50.10, 0.63), (50.20, 0.76), (50.30, 0.85), (50.43, 0.63), (50.58, 0.33),
    (50.73, 0.12), (50.83, -0.14), (50.93, -0.70), (51.05, -1.17), (51.18, -1.43),
    (51.33, -1.56), (51.45, -1.62), (51.58, -1.69), (51.70, -1.52), (51.83, -1.26),
    (51.95, -1.09), (52.08, -0.91), (52.20, -0.48), (52.33, -0.01), (52.45, 0.07),
    (52.58, -0.31), (52.71, -0.70), (52.83, -0.91), (52.96, -1.17), (53.06, -1.28),
    (53.18, -1.09), (53.31, -0.87), (53.43, -0.36), (53.56, -0.27), (53.68, -0.18),
    (53.83, -0.16), (53.96, -0.10), (54.09, 0.07), (54.21, 0.20), (54.34, 0.33), (54.46, 0.59),
    (54.59, 0.97), (54.74, 1.06), (54.86, 0.95), (54.99, 0.85), (55.11, 0.63), (55.24, 0.46),
    (55.36, 0.37), (55.49, 0.17), (55.61, 0.29), (55.74, 0.46), (55.84, 0.72), (55.97, 0.93),
    (56.09, 0.99), (56.19, 0.72), (56.32, 0.46), (56.44, 0.37), (56.54, 0.35), (56.65, 0.55),
    (56.78, 0.85), (56.88, 1.02), (56.97, 1.12)]

# put the acceleration runs together
acc_t = []
acc = []
for span, vals in [(acc_run1_span, acc_run1), (acc_run2_span, acc_run2), (acc_run3_span, acc_run3),
                   (acc_run4_span, acc_run4), (acc_run5_span, acc_run5), (acc_run6_span, acc_run6)]:
    acc_t.extend(np.linspace(span[0], span[1], len(vals)))
    acc.extend(np.array(vals) * 0.01)
acc_t = np.array(acc_t)
acc = np.array(acc)

vel_pts = np.array(vel_part1 + vel_part2 + vel_part3)
vel_t = vel_pts[:, 0]
vel = vel_pts[:, 1] * 1e-3

disp_pts = np.array(disp_part1 + disp_part2 + disp_part3)
disp_t = disp_pts[:, 0]
disp = disp_pts[:, 1] * 1e-3

t_end = 57.0

fig, axes = plt.subplots(3, 1, figsize=(12, 8))
fig.subplots_adjust(left=0.0835, right=0.9866, top=0.9656, bottom=0.0785, hspace=0.332)

panels = [
    (acc_t, acc, 'k', 'Acceleration (cm/s/s)'),
    (vel_t, vel, 'b', 'Velocity (cm/s)'),
    (disp_t, disp, 'r', 'Displacement (cm)'),
]

for ax, (tt, yy, col, lab) in zip(axes, panels):
    ax.plot(tt, yy, color=col, lw=1.5)
    ymax = 1.1 * np.abs(yy).max()
    ax.set_ylim(-ymax, ymax)
    ax.set_xlim(0, t_end)
    ax.set_ylabel(lab, fontsize=14)
    ax.set_xlabel('Time (s)', fontsize=14)
    ax.grid(True)

plt.savefig('out.png', dpi=300)
